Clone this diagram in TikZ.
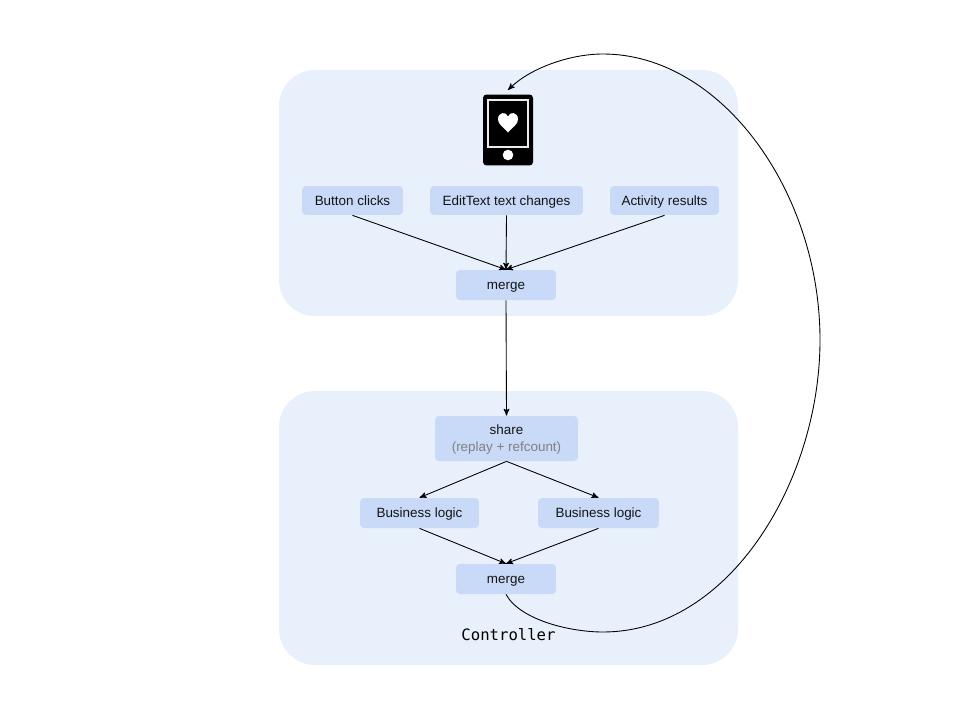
\documentclass[tikz,border=0pt]{standalone}
\usepackage{fontspec}
\setmainfont{Liberation Sans}
\setmonofont{DejaVu Sans Mono}
\usepackage{xcolor}
\usetikzlibrary{positioning,shapes,arrows}
\definecolor{panelblue}{HTML}{E8F0FB}
\definecolor{boxblue}{HTML}{C9DAF8}
\begin{document}
\begin{tikzpicture}[x=0.02cm,y=-0.02cm,>=stealth',
  panel/.style={fill=panelblue,rounded corners=0.72cm},
  opbox/.style={fill=boxblue,rounded corners=0.08cm,inner sep=0pt,font=\fontsize{7.65}{9}\selectfont,text=black!92,align=center,text height=5.6pt,text depth=0.2pt},
  wire/.style={draw=black,line width=0.5pt,->}]
\useasboundingbox (0,0) rectangle (960,720);
\fill [panel] (279,70) rectangle (738,316);
\fill [panel] (279,391) rectangle (738,665);
% tablet
\node (tablet) [fill=black,rounded corners=0.07cm,minimum width=1cm,minimum height=1.42cm,inner sep=0pt] at (508,130) {};
\draw [black!8,line width=1pt] (488,100) rectangle (528,147);
\fill [white] (508,132.5) .. controls (503,127) and (498,124) .. (498,119.5) .. controls (498,112) and (506,111) .. (508,116.5) .. controls (510,111) and (518,112) .. (518,119.5) .. controls (518,124) and (513,127) .. (508,132.5);
\fill [white] (508,155) circle (5.3);
\coordinate (tablettop) at (508,90);
% top panel
\node (clicks) [opbox,minimum width=2.02cm,minimum height=0.58cm] at (352.5,200.5) {Button clicks};
\node (textchanges) [opbox,minimum width=3.06cm,minimum height=0.58cm] at (506.5,200.5) {EditText text changes};
\node (results) [opbox,minimum width=2.18cm,minimum height=0.58cm] at (664.5,200.5) {Activity results};
\node (mergetop) [opbox,minimum width=2cm,minimum height=0.6cm] at (506,285) {merge};
% bottom panel
\node (share) [opbox,minimum width=2.86cm,minimum height=0.9cm,text height=,text depth=0.6pt] at (506.5,438.5) {share\\[0.8pt]\textcolor{black!50}{(replay + refcount)}};
\node (logicleft) [opbox,minimum width=2.38cm,minimum height=0.6cm] at (419.5,513) {Business logic};
\node (logicright) [opbox,minimum width=2.42cm,minimum height=0.6cm] at (598.5,513) {Business logic};
\node (mergelow) [opbox,minimum width=2cm,minimum height=0.6cm] at (506,579) {merge};
\node (ctrl) [font=\fontsize{8.9}{10}\selectfont\ttfamily,inner sep=0pt] at (508.5,635) {Controller};
% connectors
\draw [wire] (clicks.south) -- (mergetop.north);
\draw [wire] (textchanges.south) -- (mergetop.north);
\draw [wire] (results.south) -- (mergetop.north);
\draw [wire] (mergetop.south) -- (share.north);
\draw [wire] (share.south) -- (logicleft.north);
\draw [wire] (share.south) -- (logicright.north);
\draw [wire] (logicleft.south) -- (mergelow.north);
\draw [wire] (logicright.south) -- (mergelow.north);
\draw [wire] (mergelow.south) .. controls (520,620) and (570,632) .. (603,632) .. controls (730,632) and (820,480) .. (820,340) .. controls (820,190) and (720,54) .. (603,54) .. controls (570,54) and (530,68) .. (tablettop);
\end{tikzpicture}
\end{document}
